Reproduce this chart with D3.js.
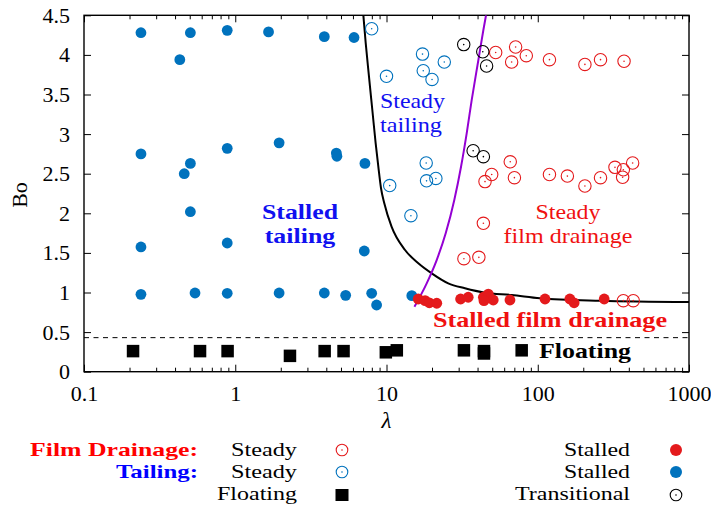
<!DOCTYPE html>
<html>
<head>
<meta charset="utf-8">
<script src="https://cdn.jsdelivr.net/npm/d3@7"></script>
<style>
	body { margin: 0; background: #fff; }
	svg text { font-family: "Liberation Serif", "Times New Roman", serif; }
</style>
</head>
<body>
<svg id="chart" width="711" height="506"></svg>
<script>
// datos: [lambda, Bo]
var stalledTailing = [
	[0.238, 4.28], [0.43, 3.94], [0.505, 4.28], [0.885, 4.31], [1.66, 4.29], [3.88, 4.23], [6.1, 4.22],
	[0.238, 2.75], [0.46, 2.50], [0.505, 2.63], [0.885, 2.82], [1.95, 2.89], [4.66, 2.76], [4.7, 2.72], [7.2, 2.63],
	[0.505, 2.02], [0.238, 1.575], [0.885, 1.625], [7.13, 1.524],
	[0.238, 0.977], [0.542, 0.994], [0.885, 0.99], [1.95, 0.994], [3.88, 0.994], [5.37, 0.964],
	[7.98, 0.99], [8.6, 0.842], [14.7, 0.96]
];
var steadyTailing = [
	[7.98, 4.33], [17.3, 4.01], [24.1, 3.91], [10.0, 3.73], [17.5, 3.80], [20.0, 3.69],
	[18.3, 2.635], [18.4, 2.41], [21.2, 2.44], [10.5, 2.35], [14.5, 1.97]
];
var stalledFilm = [
	[16.2, 0.918], [18.0, 0.897], [19.2, 0.87], [21.5, 0.864], [30.9, 0.918], [34.7, 0.94],
	[43.7, 0.94], [47.1, 0.98], [50.8, 0.905], [44.1, 0.897], [65.5, 0.905], [111.7, 0.918],
	[163, 0.918], [174, 0.87], [275, 0.918]
];
var steadyFilm = [
	[368, 0.897], [428, 0.897], [43.7, 1.874], [32.5, 1.427], [40.8, 1.444],
	[52.7, 4.03], [71.4, 4.10], [67.2, 3.91], [84, 3.99], [119.5, 3.94], [205, 3.88], [260, 3.94], [372, 3.92],
	[65.8, 2.65], [49.6, 2.49], [44.8, 2.40], [70.1, 2.45], [119.5, 2.49], [157, 2.47], [205, 2.345],
	[260, 2.45], [324, 2.58], [368, 2.55], [364, 2.455], [424, 2.635]
];
var transitional = [[32.4, 4.13], [43.3, 4.04], [45.9, 3.86], [37.4, 2.79], [43.7, 2.715]];
var floating = [
	[0.211, 0.26], [0.585, 0.26], [0.89, 0.26], [2.3, 0.20], [3.9, 0.26], [5.2, 0.26],
	[9.9, 0.245], [11.7, 0.27], [32.5, 0.27], [44.1, 0.26], [44.1, 0.23], [78.3, 0.27]
];

// fronteras entre regimenes
var tailingBoundary = [
	[7.03, 4.5], [7.29, 4.146], [7.66, 3.725], [8.06, 3.304], [8.48, 2.884], [8.83, 2.588],
	[9.2, 2.316], [9.67, 2.126], [10.8, 1.831], [13.26, 1.537], [16.23, 1.369], [19.9, 1.242],
	[25.6, 1.116], [33.0, 1.053], [44.8, 0.997], [67.3, 0.968], [103.5, 0.927], [258, 0.896], [1000, 0.880]
];
var filmBoundary = [
	[15.3, 0.82], [18.44, 1.116], [21.47, 1.41], [24.63, 1.747], [28.07, 2.168], [31.1, 2.588],
	[33.9, 3.01], [36.6, 3.431], [40.5, 3.936], [43.7, 4.314], [45.5, 4.5]
];
var floatingLimit = 0.43;

var xTicks = [0.1, 1, 10, 100, 1000];
var xTickLabels = ["0.1", "1", "10", "100", "1000"];
var yTicks = [0, 0.5, 1, 1.5, 2, 2.5, 3, 3.5, 4, 4.5];
var yTickLabels = ["0", "0.5", "1", "1.5", "2", "2.5", "3", "3.5", "4", "4.5"];

var colors = {
	red: "#e41a1c",
	blue: "#0072bd",
	purple: "#9400d3",
	redText: "#f01010",
	blueText: "#1010f0"
};

var plot = { left: 84, right: 689, top: 15.3, bottom: 371.7 };

var svg = d3.select("#chart");

var x = d3.scaleLog().domain([0.1, 1000]).range([plot.left, plot.right]);
var y = d3.scaleLinear().domain([0, 4.5]).range([plot.bottom, plot.top]);

var minorX = [];
xTicks.slice(0, -1).forEach(function(d) {
	for (var k = 2; k < 10; k++) minorX.push(d * k);
});

svg.append("clipPath").attr("id", "clip")
	.append("rect")
	.attr("x", plot.left).attr("y", plot.top)
	.attr("width", plot.right - plot.left).attr("height", plot.bottom - plot.top);

// ejes con marcas hacia dentro
function drawAxis(axis, translate) {
	var g = svg.append("g").attr("transform", translate).call(axis);
	g.select(".domain").remove();
	g.selectAll("line").attr("stroke", "#000").attr("stroke-width", 1);
	return g;
}

var gx = drawAxis(d3.axisBottom(x).tickValues(xTicks).tickSize(-7).tickPadding(14)
	.tickFormat(function(d, i) { return xTickLabels[i]; }), "translate(0," + plot.bottom + ")");
gx.selectAll("text").attr("font-size", 22).attr("fill", "#000");

drawAxis(d3.axisBottom(x).tickValues(minorX).tickSize(-4).tickFormat(""), "translate(0," + plot.bottom + ")");
drawAxis(d3.axisTop(x).tickValues(xTicks).tickSize(-7).tickFormat(""), "translate(0," + plot.top + ")");
drawAxis(d3.axisTop(x).tickValues(minorX).tickSize(-4).tickFormat(""), "translate(0," + plot.top + ")");

var gy = drawAxis(d3.axisLeft(y).tickValues(yTicks).tickSize(-7).tickPadding(14)
	.tickFormat(function(d, i) { return yTickLabels[i]; }), "translate(" + plot.left + ",0)");
gy.selectAll("text").attr("font-size", 22).attr("fill", "#000");

drawAxis(d3.axisRight(y).tickValues(yTicks).tickSize(-7).tickFormat(""), "translate(" + plot.right + ",0)");

svg.append("rect")
	.attr("x", plot.left).attr("y", plot.top)
	.attr("width", plot.right - plot.left).attr("height", plot.bottom - plot.top)
	.attr("fill", "none").attr("stroke", "#000").attr("stroke-width", 1.4);

svg.append("text")
	.attr("x", 386.5).attr("y", 428)
	.attr("text-anchor", "middle").attr("font-size", 23).attr("font-style", "italic")
	.text("λ");

svg.append("text")
	.attr("transform", "translate(27,195) rotate(-90)")
	.attr("text-anchor", "middle").attr("font-size", 22)
	.text("Bo");

var layer = svg.append("g").attr("clip-path", "url(#clip)");

layer.append("line")
	.attr("x1", plot.left).attr("x2", plot.right)
	.attr("y1", y(floatingLimit)).attr("y2", y(floatingLimit))
	.attr("stroke", "#000").attr("stroke-width", 1).attr("stroke-dasharray", "5,4.5");

var line = d3.line()
	.x(function(d) { return x(d[0]); })
	.y(function(d) { return y(d[1]); })
	.curve(d3.curveMonotoneX);

layer.append("path").datum(tailingBoundary).attr("d", line)
	.attr("fill", "none").attr("stroke", "#000").attr("stroke-width", 2);
layer.append("path").datum(filmBoundary).attr("d", line)
	.attr("fill", "none").attr("stroke", colors.purple).attr("stroke-width", 2);

function filledCircles(g, data, color, r) {
	g.selectAll(null).data(data).enter().append("circle")
		.attr("cx", function(d) { return x(d[0]); })
		.attr("cy", function(d) { return y(d[1]); })
		.attr("r", r).attr("fill", color);
}

function openCircles(g, data, color, r) {
	var s = g.selectAll(null).data(data).enter().append("g")
		.attr("transform", function(d) { return "translate(" + x(d[0]) + "," + y(d[1]) + ")"; });
	s.append("circle").attr("r", r).attr("fill", "none").attr("stroke", color).attr("stroke-width", 1.1);
	s.append("circle").attr("r", 0.8).attr("fill", color);
}

function squares(g, data, size) {
	g.selectAll(null).data(data).enter().append("rect")
		.attr("x", function(d) { return x(d[0]) - size / 2; })
		.attr("y", function(d) { return y(d[1]) - size / 2; })
		.attr("width", size).attr("height", size).attr("fill", "#000");
}

squares(layer, floating, 12.5);
filledCircles(layer, stalledTailing, colors.blue, 5.4);
filledCircles(layer, stalledFilm, colors.red, 5.4);
openCircles(layer, steadyTailing, colors.blue, 6.2);
openCircles(layer, steadyFilm, colors.red, 6.2);
openCircles(layer, transitional, "#000", 6.2);

// rotulos de regiones; el ancho imita la fuente original, mas ancha
function label(lines, widths, xPos, yPos, anchor, color, weight) {
	var t = svg.append("text").attr("text-anchor", anchor).attr("fill", color)
		.attr("font-size", 22).attr("font-weight", weight);
	lines.forEach(function(s, i) {
		t.append("tspan").attr("x", xPos).attr("y", yPos + i * 23.5)
			.attr("textLength", widths[i]).attr("lengthAdjust", "spacingAndGlyphs")
			.text(s);
	});
}

label(["Steady", "tailing"], [65, 62], 380, 108, "start", colors.blueText, "normal");
label(["Stalled", "tailing"], [76, 70.5], 300, 219, "middle", colors.blueText, "bold");
label(["Steady", "film drainage"], [65, 129], 568, 219, "middle", colors.redText, "normal");
label(["Stalled film drainage"], [234], 550, 327, "middle", colors.redText, "bold");
label(["Floating"], [92], 585, 358, "middle", "#000", "bold");

// leyenda
var legend = svg.append("g").attr("font-size", 19.5);

function legendText(txt, width, xPos, yPos, color, weight) {
	legend.append("text").attr("x", xPos).attr("y", yPos)
		.attr("text-anchor", "end").attr("fill", color).attr("font-weight", weight || "normal")
		.attr("textLength", width).attr("lengthAdjust", "spacingAndGlyphs")
		.text(txt);
}

legendText("Film Drainage:", 168, 198, 456, "red", "bold");
legendText("Tailing:", 82, 198, 478, "blue", "bold");
legendText("Steady", 66, 297, 456, "#000");
legendText("Steady", 66, 297, 478, "#000");
legendText("Floating", 80, 297, 500, "#000");
legendText("Stalled", 66, 630, 456, "#000");
legendText("Stalled", 66, 630, 478, "#000");
legendText("Transitional", 115, 630, 500, "#000");

var lx1 = 342, lx2 = 676;
function legendOpen(cx, cy, color) {
	legend.append("circle").attr("cx", cx).attr("cy", cy).attr("r", 5.8)
		.attr("fill", "none").attr("stroke", color).attr("stroke-width", 1.1);
	legend.append("circle").attr("cx", cx).attr("cy", cy).attr("r", 0.8).attr("fill", color);
}
legendOpen(lx1, 450, colors.red);
legendOpen(lx1, 472, colors.blue);
legend.append("rect").attr("x", lx1 - 6.5).attr("y", 489).attr("width", 13).attr("height", 12).attr("fill", "#000");
legend.append("circle").attr("cx", lx2).attr("cy", 450).attr("r", 6).attr("fill", colors.red);
legend.append("circle").attr("cx", lx2).attr("cy", 472).attr("r", 6).attr("fill", colors.blue);
legendOpen(lx2, 495, "#000");
</script>
</body>
</html>
